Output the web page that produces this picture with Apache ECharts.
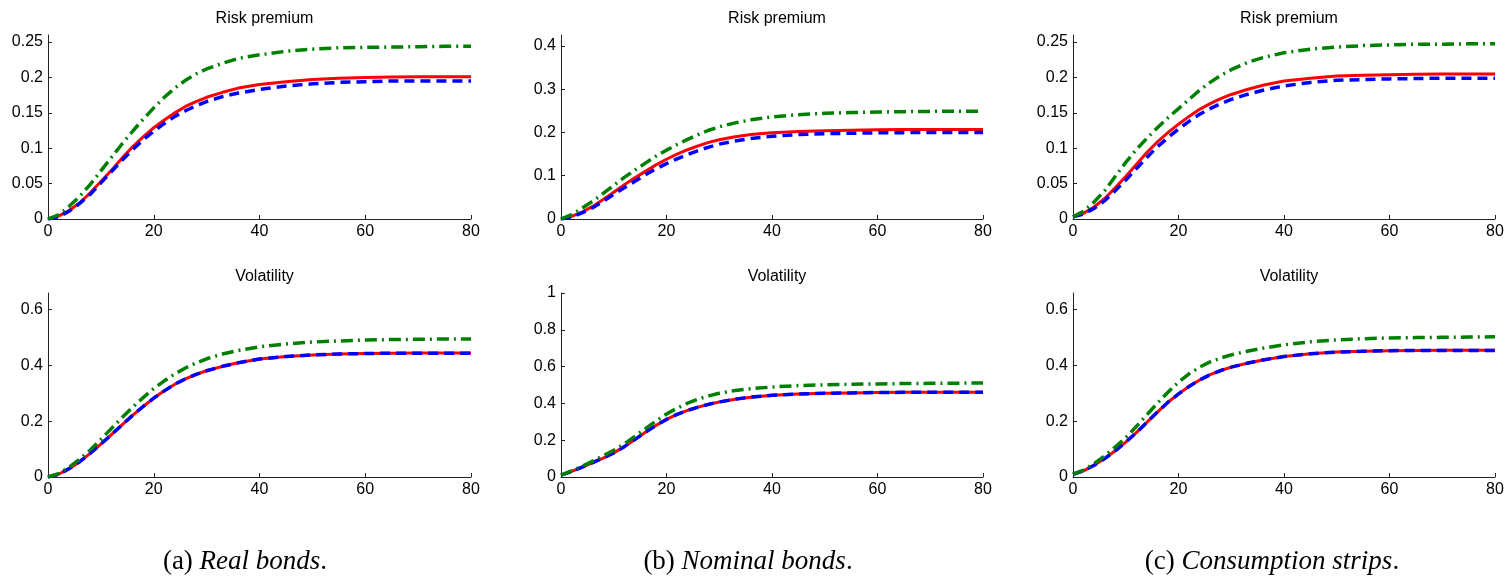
<!DOCTYPE html>
<html>
<head>
<meta charset="utf-8">
<script src="https://cdn.jsdelivr.net/npm/echarts@6/dist/echarts.min.js"></script>
<style>
  html, body { margin: 0; padding: 0; background: #fff; }
  #chart { width: 1511px; height: 579px; }
</style>
</head>
<body>
<div id="chart"></div>
<script>
// maturity (x axis)
var xs = [0, 2, 4, 6, 8, 10, 12, 14, 16, 18, 20, 22, 24, 26, 28, 30, 33, 36, 40, 45, 50, 55, 60, 65, 70, 75, 80]

// (a) real bonds
var aRpRed = [0, 0.004, 0.012, 0.023, 0.037, 0.053, 0.069, 0.086, 0.102, 0.116, 0.129, 0.140, 0.150, 0.159, 0.166, 0.172, 0.179, 0.185, 0.190, 0.194, 0.197, 0.199, 0.200, 0.2005, 0.201, 0.201, 0.201]
var aRpBlue = [0, 0.003, 0.011, 0.022, 0.035, 0.051, 0.067, 0.083, 0.098, 0.112, 0.124, 0.135, 0.145, 0.153, 0.160, 0.166, 0.173, 0.178, 0.183, 0.188, 0.191, 0.193, 0.194, 0.195, 0.195, 0.195, 0.195]
var aRpGreen = [0, 0.006, 0.018, 0.032, 0.049, 0.068, 0.087, 0.106, 0.124, 0.141, 0.157, 0.172, 0.185, 0.196, 0.205, 0.212, 0.220, 0.227, 0.232, 0.237, 0.240, 0.242, 0.2425, 0.243, 0.2435, 0.244, 0.244]
var aVolRed = [0, 0.010, 0.030, 0.055, 0.085, 0.118, 0.152, 0.187, 0.221, 0.253, 0.283, 0.309, 0.333, 0.352, 0.368, 0.381, 0.397, 0.410, 0.423, 0.432, 0.438, 0.441, 0.443, 0.444, 0.445, 0.445, 0.445]
var aVolBlue = [0, 0.010, 0.030, 0.055, 0.085, 0.118, 0.152, 0.187, 0.221, 0.253, 0.283, 0.309, 0.333, 0.352, 0.368, 0.381, 0.397, 0.410, 0.423, 0.432, 0.438, 0.441, 0.443, 0.444, 0.444, 0.444, 0.444]
var aVolGreen = [0, 0.012, 0.035, 0.064, 0.097, 0.135, 0.174, 0.213, 0.250, 0.285, 0.317, 0.345, 0.370, 0.391, 0.409, 0.424, 0.441, 0.454, 0.467, 0.477, 0.484, 0.488, 0.491, 0.493, 0.494, 0.495, 0.495]

// (b) nominal bonds
var bRpRed = [0, 0.006, 0.016, 0.029, 0.045, 0.062, 0.079, 0.095, 0.110, 0.125, 0.138, 0.150, 0.160, 0.169, 0.177, 0.183, 0.190, 0.195, 0.199, 0.202, 0.204, 0.205, 0.206, 0.2065, 0.207, 0.207, 0.207]
var bRpBlue = [0, 0.005, 0.014, 0.026, 0.041, 0.057, 0.072, 0.087, 0.102, 0.116, 0.128, 0.139, 0.149, 0.158, 0.166, 0.173, 0.180, 0.186, 0.191, 0.195, 0.197, 0.198, 0.199, 0.1995, 0.200, 0.200, 0.200]
var bRpGreen = [0, 0.010, 0.025, 0.041, 0.059, 0.078, 0.096, 0.113, 0.129, 0.145, 0.159, 0.172, 0.184, 0.195, 0.205, 0.213, 0.222, 0.229, 0.236, 0.241, 0.244, 0.246, 0.247, 0.248, 0.2485, 0.249, 0.249]
var bVolRed = [0.010, 0.030, 0.053, 0.078, 0.103, 0.131, 0.165, 0.204, 0.243, 0.280, 0.313, 0.340, 0.362, 0.380, 0.395, 0.408, 0.423, 0.434, 0.444, 0.451, 0.455, 0.457, 0.459, 0.460, 0.460, 0.461, 0.461]
var bVolBlue = [0.010, 0.030, 0.053, 0.078, 0.103, 0.131, 0.165, 0.204, 0.243, 0.280, 0.313, 0.340, 0.362, 0.380, 0.395, 0.408, 0.423, 0.434, 0.444, 0.451, 0.455, 0.457, 0.459, 0.460, 0.460, 0.460, 0.460]
var bVolGreen = [0.010, 0.033, 0.058, 0.086, 0.115, 0.145, 0.180, 0.221, 0.263, 0.304, 0.342, 0.374, 0.401, 0.423, 0.441, 0.455, 0.470, 0.480, 0.489, 0.497, 0.501, 0.504, 0.506, 0.508, 0.509, 0.510, 0.511]

// (c) consumption strips
var cRpRed = [0.003, 0.008, 0.017, 0.029, 0.044, 0.060, 0.077, 0.094, 0.109, 0.122, 0.134, 0.145, 0.155, 0.163, 0.170, 0.176, 0.183, 0.189, 0.195, 0.199, 0.202, 0.203, 0.204, 0.2045, 0.205, 0.205, 0.205]
var cRpBlue = [0.003, 0.007, 0.015, 0.026, 0.040, 0.055, 0.071, 0.087, 0.102, 0.115, 0.127, 0.138, 0.148, 0.156, 0.163, 0.169, 0.176, 0.182, 0.188, 0.193, 0.196, 0.197, 0.198, 0.1985, 0.199, 0.199, 0.199]
var cRpGreen = [0.003, 0.011, 0.024, 0.040, 0.060, 0.080, 0.098, 0.114, 0.129, 0.143, 0.156, 0.169, 0.182, 0.193, 0.203, 0.211, 0.221, 0.228, 0.235, 0.240, 0.243, 0.245, 0.246, 0.247, 0.247, 0.2475, 0.2475]
var cVolRed = [0.010, 0.022, 0.042, 0.066, 0.094, 0.125, 0.159, 0.196, 0.233, 0.268, 0.298, 0.325, 0.348, 0.367, 0.382, 0.394, 0.408, 0.420, 0.432, 0.442, 0.448, 0.451, 0.453, 0.454, 0.455, 0.455, 0.455]
var cVolBlue = [0.010, 0.022, 0.042, 0.066, 0.094, 0.125, 0.159, 0.196, 0.233, 0.268, 0.298, 0.325, 0.348, 0.367, 0.382, 0.394, 0.408, 0.420, 0.432, 0.442, 0.448, 0.451, 0.453, 0.454, 0.454, 0.454, 0.454]
var cVolGreen = [0.010, 0.025, 0.048, 0.076, 0.107, 0.141, 0.181, 0.223, 0.265, 0.304, 0.340, 0.370, 0.394, 0.413, 0.427, 0.438, 0.451, 0.462, 0.474, 0.485, 0.492, 0.496, 0.499, 0.500, 0.501, 0.502, 0.503]

// tick values
var xTicks = [0, 20, 40, 60, 80]
var rpTicksSmall = [0, 0.05, 0.1, 0.15, 0.2, 0.25]
var rpTicksWide = [0, 0.1, 0.2, 0.3, 0.4]
var volTicksSmall = [0, 0.2, 0.4, 0.6]
var volTicksWide = [0, 0.2, 0.4, 0.6, 0.8, 1]

var captions = [
  { tag: '(a) ', name: 'Real bonds', center: 240 },
  { tag: '(b) ', name: 'Nominal bonds', center: 743 },
  { tag: '(c) ', name: 'Consumption strips', center: 1267 }
]

// panel layout: [left, top, width, height, yMax, yTicks, red, blue, green, title]
var panels = [
  [48, 35, 423, 184, 0.26, rpTicksSmall, aRpRed, aRpBlue, aRpGreen, 'Risk premium'],
  [561, 35, 422, 184, 0.425, rpTicksWide, bRpRed, bRpBlue, bRpGreen, 'Risk premium'],
  [1073, 35, 422, 184, 0.26, rpTicksSmall, cRpRed, cRpBlue, cRpGreen, 'Risk premium'],
  [48, 293, 423, 184, 0.66, volTicksSmall, aVolRed, aVolBlue, aVolGreen, 'Volatility'],
  [561, 293, 422, 184, 1, volTicksWide, bVolRed, bVolBlue, bVolGreen, 'Volatility'],
  [1073, 293, 422, 184, 0.66, volTicksSmall, cVolRed, cVolBlue, cVolGreen, 'Volatility']
]

function pairs(ys) {
  return xs.map(function (x, i) { return [x, ys[i]] })
}

var axisLineStyle = { color: '#222', width: 1 }
var labelStyle = { color: '#000', fontSize: 16, fontFamily: 'Liberation Sans, Arial, sans-serif' }
var serif = 'Liberation Serif, Times New Roman, serif'

var grid = []
var xAxis = []
var yAxis = []
var series = []
var title = []

panels.forEach(function (p, k) {
  grid.push({ left: p[0], top: p[1], width: p[2], height: p[3] })
  xAxis.push({
    type: 'value', gridIndex: k, min: 0, max: 80, interval: 20,
    axisLine: { show: true, lineStyle: axisLineStyle },
    axisTick: { show: true, inside: true, length: 4, lineStyle: axisLineStyle },
    axisLabel: Object.assign({ margin: 5, customValues: xTicks }, labelStyle),
    splitLine: { show: false }
  })
  yAxis.push({
    type: 'value', gridIndex: k, min: 0, max: p[4],
    axisLine: { show: true, lineStyle: axisLineStyle },
    axisTick: { show: true, inside: true, length: 4, customValues: p[5], lineStyle: axisLineStyle },
    axisLabel: Object.assign({ margin: 5, customValues: p[5], formatter: function (v) { return String(+v.toFixed(3)) } }, labelStyle),
    splitLine: { show: false }
  })
  title.push({
    text: p[9], left: p[0] + p[2] / 2, top: p[1] - 29, textAlign: 'center',
    textStyle: { fontSize: 16, fontWeight: 'normal', color: '#000', fontFamily: 'Liberation Sans, Arial, sans-serif' }
  })
  var common = { type: 'line', xAxisIndex: k, yAxisIndex: k, showSymbol: false, smooth: false, silent: true }
  series.push(Object.assign({ data: pairs(p[6]), lineStyle: { color: '#ff0000', width: 3, type: 'solid', join: 'round' } }, common))
  series.push(Object.assign({ data: pairs(p[7]), lineStyle: { color: '#0000ff', width: 3.5, type: [10, 6], join: 'round' } }, common))
  series.push(Object.assign({ data: pairs(p[8]), lineStyle: { color: '#008000', width: 3.5, type: [12, 5, 2, 5], join: 'round' } }, common))
})

captions.forEach(function (c) {
  title.push({
    text: '{n|' + c.tag + '}{i|' + c.name + '}{n|.}',
    left: c.center, top: 543, textAlign: 'center',
    textStyle: {
      fontWeight: 'normal',
      rich: {
        n: { fontSize: 27, fontWeight: 'normal', fontFamily: serif, color: '#000' },
        i: { fontSize: 27, fontWeight: 'normal', fontStyle: 'italic', fontFamily: serif, color: '#000' }
      }
    }
  })
})

var chart = echarts.init(document.getElementById('chart'), null, { renderer: 'canvas' })
chart.setOption({
  animation: false,
  backgroundColor: '#fff',
  title: title,
  grid: grid,
  xAxis: xAxis,
  yAxis: yAxis,
  series: series
})
</script>
</body>
</html>
